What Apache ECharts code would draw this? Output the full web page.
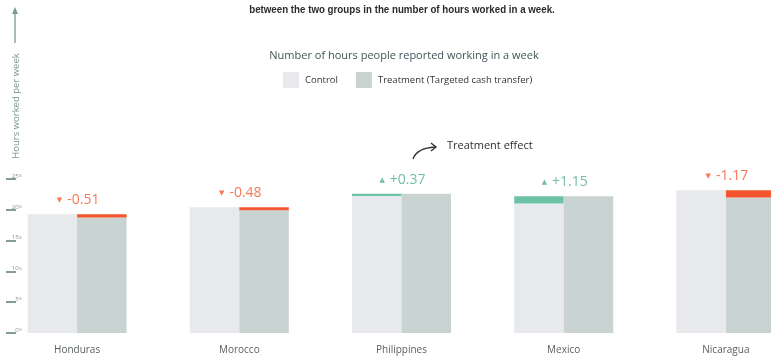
<!DOCTYPE html>
<html>
<head>
<meta charset="utf-8">
<script src="https://cdn.jsdelivr.net/npm/echarts@6/dist/echarts.min.js"></script>
<style>
  html, body { margin: 0; padding: 0; background: #ffffff; }
  #chart { width: 771px; height: 363px; }
</style>
</head>
<body>
<div id="chart"></div>
<script>
// Average weekly hours worked, by country and study arm
const countries = ['Honduras', 'Morocco', 'Philippines', 'Mexico', 'Nicaragua'];
const controlHours = [19.27, 20.41, 22.24, 21.04, 23.17];
const treatmentHours = [18.76, 19.93, 22.61, 22.19, 22.00];
const yTicks = [0, 5, 10, 15, 20, 25];

const CONTROL_COLOR = '#e8e9ed';
const TREAT_COLOR = '#c9d3d2';
const UP_COLOR = '#6cc2a4';
const UP_TEXT = '#4fae8c';
const DOWN_COLOR = '#f5552d';
const FONT = '"Open Sans", "Noto Sans", sans-serif';

// Effect = treatment minus control, rounded as printed
const effects = countries.map((_, i) => +(treatmentHours[i] - controlHours[i]).toFixed(2));
// Cap shown on the lower bar, reaching up to the higher one
const gainCap = effects.map(e => (e > 0 ? e : 0));
const lossCap = effects.map(e => (e < 0 ? -e : 0));
const peak = countries.map((_, i) => [i, Math.max(controlHours[i], treatmentHours[i]), effects[i]]);

const chart = echarts.init(document.getElementById('chart'), null, { renderer: 'canvas' });

chart.setOption({
  animation: false,
  backgroundColor: '#ffffff',
  textStyle: { fontFamily: FONT },
  grid: { left: -4, right: -36, top: 179, bottom: 30, containLabel: false, outerBoundsMode: 'none' },
  legend: {
    left: 283,
    top: 72,
    padding: 0,
    itemWidth: 16,
    itemHeight: 16,
    itemGap: 18,
    icon: 'rect',
    selectedMode: false,
    data: ['Control', 'Treatment (Targeted cash transfer)'],
    textStyle: { fontFamily: FONT, fontSize: 9.5, color: '#333333', padding: [0, 0, 0, 1] }
  },
  xAxis: {
    type: 'category',
    data: countries,
    axisLine: { show: false },
    axisTick: { show: false },
    axisLabel: { margin: 12, fontSize: 10, color: '#5c6060', fontFamily: FONT }
  },
  yAxis: {
    type: 'value',
    min: 0,
    max: 25,
    interval: 5,
    offset: -20,
    axisLine: { show: false },
    splitLine: { show: false },
    axisTick: { show: true, length: 10, lineStyle: { color: '#5d7b7b', width: 1.5 } },
    axisLabel: {
      margin: -6,
      align: 'right',
      verticalAlign: 'bottom',
      formatter: v => '{n|' + v + '}{p|%}',
      rich: {
        n: { fontSize: 6, color: '#8a8f8f', fontFamily: FONT },
        p: { fontSize: 4, color: '#8a8f8f', fontFamily: FONT }
      }
    },
    data: yTicks
  },
  series: [
    {
      name: 'Control', type: 'bar', stack: 'control', barWidth: 49.5, barGap: '0%',
      itemStyle: { color: CONTROL_COLOR }, data: controlHours
    },
    {
      name: 'Control gain', type: 'bar', stack: 'control', barWidth: 49.5, barGap: '0%',
      itemStyle: { color: UP_COLOR }, data: gainCap
    },
    {
      name: 'Treatment (Targeted cash transfer)', type: 'bar', stack: 'treat', barWidth: 49.5, barGap: '0%',
      itemStyle: { color: TREAT_COLOR }, data: treatmentHours
    },
    {
      name: 'Treatment loss', type: 'bar', stack: 'treat', barWidth: 49.5, barGap: '0%',
      itemStyle: { color: DOWN_COLOR }, data: lossCap
    },
    {
      name: 'Effect', type: 'scatter', symbolSize: 0, silent: true,
      data: peak,
      label: {
        show: true,
        position: 'top',
        distance: 7,
        offset: [1, 0],
        formatter: p => {
          const e = p.data[2];
          return e >= 0 ? '{up|▲}{upn|+' + e.toFixed(2) + '}' : '{dn|▼}{dnn|' + e.toFixed(2) + '}';
        },
        rich: {
          up: { fontSize: 7, color: UP_TEXT, fontFamily: 'DejaVu Sans', padding: [0, 5, 0, 0] },
          upn: { fontSize: 14, color: UP_TEXT, fontFamily: FONT },
          dn: { fontSize: 7, color: DOWN_COLOR, fontFamily: 'DejaVu Sans', padding: [0, 5, 0, 0] },
          dnn: { fontSize: 14, color: DOWN_COLOR, fontFamily: FONT }
        }
      }
    }
  ],
  graphic: [
    {
      type: 'text', x: 402, y: 10, scaleX: 0.885,
      style: {
        text: 'between the two groups in the number of hours worked in a week.',
        font: 'bold 11px "Liberation Sans", sans-serif',
        fill: '#2b2b2b', align: 'center', verticalAlign: 'middle'
      }
    },
    {
      type: 'text', x: 404, y: 56,
      style: {
        text: 'Number of hours people reported working in a week',
        font: '11px ' + FONT, fill: '#3f5658', align: 'center', verticalAlign: 'middle'
      }
    },
    // vertical axis arrow
    {
      type: 'line', shape: { x1: 15, y1: 11, x2: 15, y2: 43 },
      style: { stroke: '#7b9a9a', lineWidth: 1.3 }
    },
    {
      type: 'polygon', shape: { points: [[12, 14], [15, 7], [18, 14]] },
      style: { fill: '#7b9a9a' }
    },
    {
      type: 'text', x: 16, y: 106, rotation: Math.PI / 2,
      style: {
        text: 'Hours worked per week',
        font: '9.5px ' + FONT, fill: '#7a9696', align: 'center', verticalAlign: 'middle'
      }
    },
    // treatment effect callout
    {
      type: 'bezierCurve',
      shape: { x1: 413, y1: 159, cpx1: 417, cpy1: 148, x2: 435, y2: 147 },
      style: { stroke: '#333333', lineWidth: 1.4, fill: null }
    },
    {
      type: 'polyline',
      shape: { points: [[431, 143], [436, 147], [431, 151]] },
      style: { stroke: '#333333', lineWidth: 1.4, fill: null }
    },
    {
      type: 'text', x: 447, y: 146,
      style: {
        text: 'Treatment effect',
        font: '11px ' + FONT, fill: '#2f2f2f', verticalAlign: 'middle'
      }
    }
  ]
});
</script>
</body>
</html>
